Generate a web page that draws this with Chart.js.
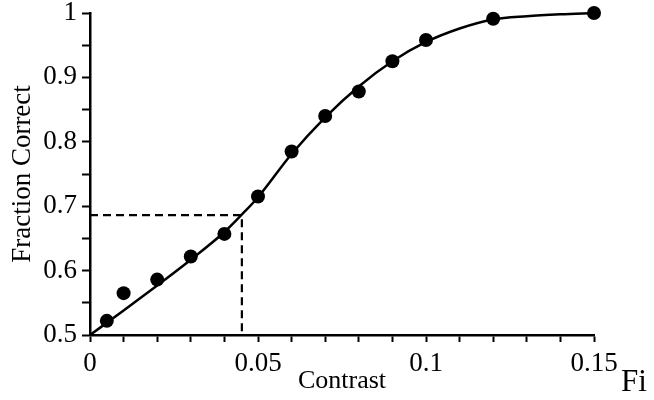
<!DOCTYPE html>
<html>
<head>
<meta charset="utf-8">
<script src="https://cdn.jsdelivr.net/npm/chart.js@4.4.0/dist/chart.umd.min.js"></script>
<style>
    html, body { margin: 0; padding: 0; background: #fff; }
    #wrap { width: 654px; height: 400px; position: relative; }
</style>
</head>
<body>
<div id="wrap"><canvas id="psyChart"></canvas></div>
<script>
// measured points
const contrast = [0.005, 0.01, 0.02, 0.03, 0.04, 0.05, 0.06, 0.07, 0.08, 0.09, 0.1, 0.12, 0.15];
const fractionCorrect = [0.522, 0.565, 0.586, 0.622, 0.657, 0.715, 0.785, 0.840, 0.878, 0.925, 0.958, 0.991, 1.0];

// fitted curve
const fitX = [0, 0.01, 0.02, 0.03, 0.04, 0.045, 0.05, 0.06, 0.07, 0.08, 0.09, 0.1, 0.11, 0.12, 0.13, 0.14, 0.15];
const fitY = [0.5, 0.538, 0.577, 0.617, 0.660, 0.686, 0.714, 0.781, 0.838, 0.886, 0.925, 0.955, 0.976, 0.99, 0.995, 0.998, 1.0];

// threshold marker (dashed)
const threshX = [0, 0.0452, 0.0452];
const threshY = [0.686, 0.686, 0.5];

const toXY = (xs, ys) => xs.map((x, i) => ({ x: x, y: ys[i] }));

Chart.defaults.font.family = '"Liberation Serif", "DejaVu Serif", serif';
Chart.defaults.color = '#000';

const fiLabel = {
    id: 'fiLabel',
    afterDraw(chart) {
        const ctx = chart.ctx;
        ctx.save();
        ctx.font = '31px "Liberation Serif", serif';
        ctx.fillStyle = '#000';
        ctx.textBaseline = 'alphabetic';
        ctx.fillText('Fi', 621, 391);
        ctx.restore();
    }
};

const ctx = document.getElementById('psyChart').getContext('2d');
new Chart(ctx, {
    type: 'scatter',
    data: {
        datasets: [
            {
                data: toXY(fitX, fitY),
                showLine: true,
                borderColor: '#000',
                borderWidth: 2.5,
                pointRadius: 0,
                cubicInterpolationMode: 'monotone',
                clip: false
            },
            {
                data: toXY(threshX, threshY),
                showLine: true,
                borderColor: '#000',
                borderWidth: 2.2,
                borderDash: [8, 5],
                pointRadius: 0,
                tension: 0,
                clip: false
            },
            {
                data: toXY(contrast, fractionCorrect),
                showLine: false,
                pointRadius: 7,
                pointBackgroundColor: '#000',
                pointBorderColor: '#000',
                pointBorderWidth: 0,
                clip: false
            }
        ]
    },
    options: {
        responsive: true,
        maintainAspectRatio: false,
        animation: false,
        layout: { padding: { top: 13, right: 60, left: 0, bottom: 0 } },
        plugins: {
            legend: { display: false },
            tooltip: { enabled: false }
        },
        scales: {
            x: {
                type: 'linear',
                min: 0,
                max: 0.15,
                afterFit: (s) => { s.height = 65; s.paddingLeft = 0; s.paddingRight = 0; },
                border: { display: true, color: '#000', width: 2.5 },
                grid: { drawOnChartArea: false, drawTicks: true, tickLength: 7, tickColor: '#000', tickWidth: 2 },
                ticks: {
                    stepSize: 0.01,
                    autoSkip: false,
                    maxRotation: 0,
                    padding: 6,
                    font: { size: 27 },
                    callback: function (v) {
                        const n = Math.round(v * 100);
                        if (n % 5 !== 0) return '';
                        return String(n / 100);
                    }
                },
                title: {
                    display: true,
                    text: 'Contrast',
                    font: { size: 26 },
                    padding: { top: 0, bottom: 3 }
                }
            },
            y: {
                type: 'linear',
                min: 0.5,
                max: 1,
                afterFit: (s) => { s.width = 90; s.paddingTop = 0; s.paddingBottom = 0; },
                border: { display: true, color: '#000', width: 2.5 },
                grid: { drawOnChartArea: false, drawTicks: true, tickLength: 8, tickColor: '#000', tickWidth: 2 },
                ticks: {
                    stepSize: 0.05,
                    autoSkip: false,
                    padding: 5,
                    font: { size: 27 },
                    callback: function (v) {
                        const n = Math.round(v * 100);
                        if (n % 10 !== 0) return '';
                        return String(n / 100);
                    }
                },
                title: {
                    display: true,
                    text: 'Fraction Correct',
                    font: { size: 27 },
                    padding: { top: 7, bottom: 0 }
                }
            }
        }
    },
    plugins: [fiLabel]
});
</script>
</body>
</html>
